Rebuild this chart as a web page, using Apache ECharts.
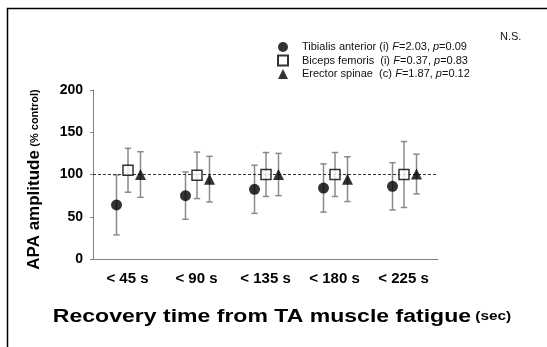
<!DOCTYPE html>
<html>
<head>
<meta charset="utf-8">
<style>
  html, body { margin: 0; padding: 0; background: #fff; }
  #chart { width: 547px; height: 347px; }
</style>
<script src="https://cdn.jsdelivr.net/npm/echarts@6/dist/echarts.min.js"></script>
</head>
<body>
<div id="chart"></div>
<script>
// categories and tick labels
const categories = ['< 45 s', '< 90 s', '< 135 s', '< 180 s', '< 225 s'];
const yTicks = [0, 50, 100, 150, 200];

// series (mean and SD, % control)
const seriesNames = ['Tibialis anterior (i)', 'Biceps femoris  (i)', 'Erector spinae  (c)'];
const taMean = [64, 75, 82.5, 84, 86];
const taSd = [35.5, 28, 28.5, 28.5, 28];
const bfMean = [105, 99, 100, 100, 100];
const bfSd = [26, 27.5, 26, 26, 39];
const esMean = [100, 94.5, 100, 94.5, 100.5];
const esSd = [27, 27, 25, 26.5, 23.5];

// stats shown in legend
const fValues = ['2.03', '0.37', '1.87'];
const pValues = ['0.09', '0.83', '0.12'];

const FONT = 'Arial, "Liberation Sans", sans-serif';

const groups = [
  { mean: taMean, sd: taSd, symbol: 'circle', size: 11, offset: -11,
    style: { color: '#000' } },
  { mean: bfMean, sd: bfSd, symbol: 'rect', size: 10, offset: 0.5,
    style: { color: '#fff', borderColor: '#000', borderWidth: 1.5 } },
  { mean: esMean, sd: esSd, symbol: 'triangle', size: 11, offset: 13,
    style: { color: '#000' } }
];

const chart = echarts.init(document.getElementById('chart'));

const series = [];
groups.forEach((g, gi) => {
  // error bars
  series.push({
    type: 'custom',
    name: 'err' + gi,
    z: 2,
    silent: true,
    data: categories.map((c, i) => [i, g.mean[i] - g.sd[i], g.mean[i] + g.sd[i]]),
    renderItem: function (params, api) {
      const lo = api.coord([api.value(0), api.value(1)]);
      const hi = api.coord([api.value(0), api.value(2)]);
      const x = lo[0] + g.offset;
      const cap = 3.2;
      const st = { stroke: '#8a8a8a', lineWidth: 1.5 };
      return {
        type: 'group',
        children: [
          { type: 'line', shape: { x1: x, y1: lo[1], x2: x, y2: hi[1] }, style: st },
          { type: 'line', shape: { x1: x - cap, y1: lo[1], x2: x + cap, y2: lo[1] }, style: st },
          { type: 'line', shape: { x1: x - cap, y1: hi[1], x2: x + cap, y2: hi[1] }, style: st }
        ]
      };
    }
  });
  // markers
  series.push({
    type: 'scatter',
    name: seriesNames[gi],
    z: 5,
    symbol: g.symbol,
    symbolSize: g.size,
    symbolOffset: [g.offset, 0],
    itemStyle: g.style,
    data: g.mean.map((v, i) => [i, v]),
    markLine: gi === 0 ? {
      silent: true,
      symbol: 'none',
      label: { show: false },
      lineStyle: { color: '#333', type: [3, 2], width: 1 },
      data: [{ yAxis: 100 }]
    } : undefined
  });
});

chart.setOption({
  animation: false,
  backgroundColor: '#fff',
  textStyle: { fontFamily: FONT },
  grid: { left: 93, top: 90, right: 109, bottom: 88 },
  legend: {
    data: seriesNames,
    orient: 'vertical',
    left: 272,
    top: 36,
    itemWidth: 10,
    itemHeight: 10,
    itemGap: 1.5,
    selectedMode: false,
    formatter: function (name) {
      const i = seriesNames.indexOf(name);
      return '{n|' + name + '} {i|F}{n|=' + fValues[i] + ', }{i|p}{n|=' + pValues[i] + '}';
    },
    textStyle: {
      padding: [0, 0, 0, 9],
      rich: {
        n: { fontSize: 11, lineHeight: 11, color: '#111', fontFamily: FONT },
        i: { fontSize: 11, lineHeight: 11, color: '#111', fontStyle: 'italic', fontFamily: FONT }
      }
    }
  },
  xAxis: {
    type: 'category',
    data: categories,
    boundaryGap: true,
    axisLine: { lineStyle: { color: '#808080', width: 1 } },
    axisTick: { inside: true, length: 3, lineStyle: { color: '#808080' } },
    axisLabel: { color: '#000', fontWeight: 'bold', fontSize: 15, margin: 12, fontFamily: FONT },
    splitLine: { show: false }
  },
  yAxis: {
    type: 'value',
    min: yTicks[0],
    max: yTicks[yTicks.length - 1],
    interval: 50,
    axisLine: { show: true, lineStyle: { color: '#808080', width: 1 } },
    axisTick: { show: true, length: 3, lineStyle: { color: '#808080' } },
    axisLabel: { color: '#000', fontWeight: 'bold', fontSize: 14, margin: 10, fontFamily: FONT },
    splitLine: { show: false },
    name: '{a|APA amplitude} {b|(% control)}',
    nameLocation: 'middle',
    nameRotate: 90,
    nameGap: 50,
    nameTextStyle: {
      padding: [0, 10, 0, 0],
      rich: {
        a: { fontSize: 17, fontWeight: 'bold', color: '#000', fontFamily: FONT },
        b: { fontSize: 11, fontWeight: 'bold', color: '#000', fontFamily: FONT }
      }
    }
  },
  graphic: [
    {
      type: 'polyline',
      shape: { points: [[7.5, 347], [7.5, 8.5], [547, 8.5]] },
      style: { stroke: '#000', lineWidth: 1.5, fill: null }
    },
    {
      type: 'text',
      left: 500,
      top: 31,
      style: { text: 'N.S.', fontSize: 11, fill: '#111', fontFamily: FONT }
    },
    {
      // x axis title (the source figure is horizontally stretched)
      type: 'text',
      x: 282,
      y: 317,
      scaleX: 1.28,
      style: {
        text: '{a|Recovery time from TA muscle fatigue} {b|(sec)}',
        align: 'center',
        verticalAlign: 'middle',
        rich: {
          a: { fontSize: 18, fontWeight: 'bold', fill: '#000', fontFamily: FONT },
          b: { fontSize: 12, fontWeight: 'bold', fill: '#000', fontFamily: FONT }
        }
      }
    }
  ],
  series: series
});
</script>
</body>
</html>
